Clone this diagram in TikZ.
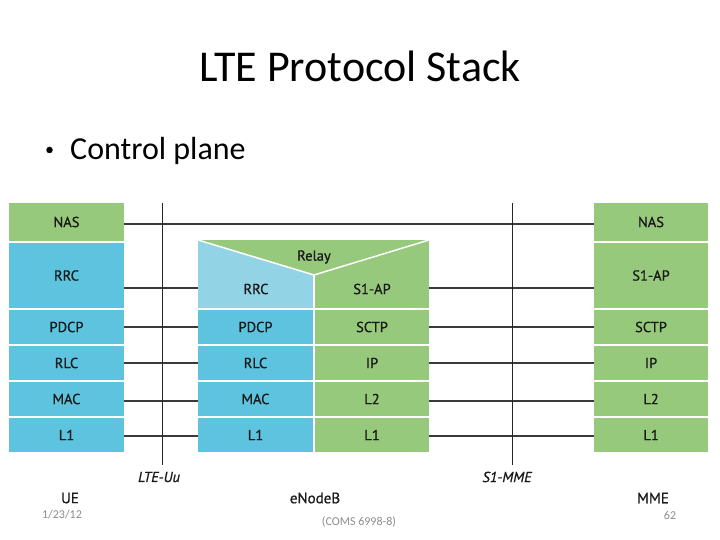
\documentclass[tikz,border=0pt]{standalone}
\usepackage{fontspec}
\setmainfont{Carlito}
\newfontfamily\diagfont[FakeBold=0.8]{PT Sans}
\definecolor{ueblue}{HTML}{5EC3DE}
\definecolor{ltblue}{HTML}{92D3E6}
\definecolor{lgreen}{HTML}{97C97C}
\definecolor{linegray}{HTML}{3A3A3A}
\definecolor{footgray}{HTML}{8C8C8C}
\definecolor{txt}{HTML}{1A1A1A}
\begin{document}
\begin{tikzpicture}[x=1pt,y=-1pt,
  cell/.style={inner sep=0pt, minimum height=#1, font=\diagfont\fontsize{14.5}{16}\selectfont, text=txt},
  bcell/.style={cell=#1, fill=ueblue},
  gcell/.style={cell=#1, fill=lgreen},
  wide/.style={minimum width=115pt},
  narrow/.style={minimum width=114pt},
  proto/.style={draw=linegray, line width=1.4pt},
  iface/.style={draw=black!85, line width=1pt},
  lbl/.style={font=\diagfont\fontsize{14.5}{16}\selectfont, text=txt, inner sep=0pt},
  elbl/.style={font=\diagfont\fontsize{15}{17}\selectfont, text=txt, inner sep=0pt},
  ilbl/.style={font=\diagfont\itshape\fontsize{14.5}{16}\selectfont, text=txt, inner sep=0pt},
  foot/.style={font=\fontsize{12}{14}\selectfont, text=footgray, inner sep=0pt}
]
\useasboundingbox[fill=white] (0,0) rectangle (720,540);

% title
\node[font=\fontsize{44}{50}\selectfont, anchor=base, inner sep=0pt] (title) at (360,82) {LTE Protocol Stack};
\node[circle, fill=black, inner sep=0pt, minimum size=6.5pt] (dot) at (49.5,150) {};
\node[font=\fontsize{32}{36}\selectfont, anchor=base west, inner sep=0pt] (bullet) at (70,160) {Control plane};

% UE stack
\node[gcell=38pt, wide] (ueNAS)  at (66.5,222)   {NAS};
\node[bcell=65pt, wide] (ueRRC)  at (66.5,275.5) {RRC};
\node[bcell=34pt, wide] (uePDCP) at (66.5,327)   {PDCP};
\node[bcell=34pt, wide] (ueRLC)  at (66.5,363)   {RLC};
\node[bcell=34pt, wide] (ueMAC)  at (66.5,399)   {MAC};
\node[bcell=34pt, wide] (ueL1)   at (66.5,435)   {L1};

% eNodeB upper region (Relay / RRC / S1-AP)
\fill[lgreen] (198,240) rectangle (429,308);
\fill[ltblue] (198,240) -- (314,275) -- (314,308) -- (198,308) -- cycle;
\draw[white, line width=1.5pt] (198,240) -- (314,275) -- (429,240);
\draw[white, line width=1.5pt] (314,275) -- (314,308);
\coordinate (enbRRCw) at (198,288);
\coordinate (enbS1e) at (429,288);
\node[lbl] (relay) at (314,257) {Relay};
\node[lbl] (enbRRC) at (256,289) {RRC};
\node[lbl] (enbS1) at (372,289) {S1-AP};

% eNodeB lower cells
\node[bcell=34pt, wide]   (enbPDCP) at (255.5,327) {PDCP};
\node[bcell=34pt, wide]   (enbRLC)  at (255.5,363) {RLC};
\node[bcell=34pt, wide]   (enbMAC)  at (255.5,399) {MAC};
\node[bcell=34pt, wide]   (enbL1)   at (255.5,435) {L1};
\node[gcell=34pt, narrow] (enbSCTP) at (372,327)   {SCTP};
\node[gcell=34pt, narrow] (enbIP)   at (372,363)   {IP};
\node[gcell=34pt, narrow] (enbL2)   at (372,399)   {L2};
\node[gcell=34pt, narrow] (enbL1b)  at (372,435)   {L1};

% MME stack
\node[gcell=38pt, narrow] (mmeNAS)  at (651,222)   {NAS};
\node[gcell=65pt, narrow] (mmeS1)   at (651,275.5) {S1-AP};
\node[gcell=34pt, narrow] (mmeSCTP) at (651,327)   {SCTP};
\node[gcell=34pt, narrow] (mmeIP)   at (651,363)   {IP};
\node[gcell=34pt, narrow] (mmeL2)   at (651,399)   {L2};
\node[gcell=34pt, narrow] (mmeL1)   at (651,435)   {L1};

% peer-protocol lines
\draw[proto] ([yshift=-2pt]ueNAS.east) -- ([yshift=-2pt]mmeNAS.west);
\draw[proto] ([yshift=-12.5pt]ueRRC.east) -- (enbRRCw);
\draw[proto] (enbS1e) -- ([yshift=-12.5pt]mmeS1.west);
\draw[proto] (uePDCP.east) -- (enbPDCP.west);
\draw[proto] (ueRLC.east) -- (enbRLC.west);
\draw[proto] ([yshift=-2pt]ueMAC.east) -- ([yshift=-2pt]enbMAC.west);
\draw[proto] ([yshift=-1pt]ueL1.east) -- ([yshift=-1pt]enbL1.west);
\draw[proto] (enbSCTP.east) -- (mmeSCTP.west);
\draw[proto] (enbIP.east) -- (mmeIP.west);
\draw[proto] ([yshift=-2pt]enbL2.east) -- ([yshift=-2pt]mmeL2.west);
\draw[proto] ([yshift=-1pt]enbL1b.east) -- ([yshift=-1pt]mmeL1.west);

% interface lines
\coordinate (uuTop) at (162,203);
\coordinate (uuBot) at (162,465);
\coordinate (smTop) at (512,203);
\coordinate (smBot) at (512,465);
\draw[iface] (uuTop) -- (uuBot);
\draw[iface] (smTop) -- (smBot);
\node[ilbl] (uu) at (159,477) {LTE-Uu};
\node[ilbl] (s1mme) at (507,477) {S1-MME};

% entity names
\node[elbl] (ue)   at (70,498)  {UE};
\node[elbl] (enb)  at (315,498) {eNodeB};
\node[elbl] (mme)  at (653,498) {MME};

% footer
\node[foot] (date) at (62,515)  {1/23/12};
\node[foot] (course) at (359,522) {(COMS 6998-8)};
\node[foot] (page) at (670,515) {62};
\end{tikzpicture}
\end{document}
